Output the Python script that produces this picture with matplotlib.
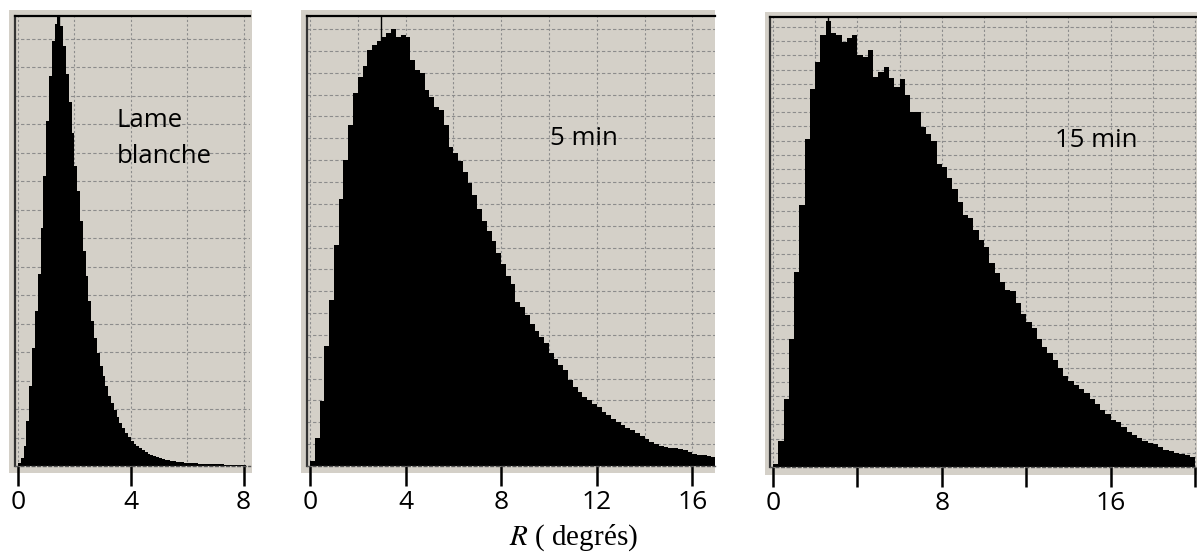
import numpy as np
import matplotlib.pyplot as plt
from matplotlib.patches import Rectangle
from matplotlib.ticker import MultipleLocator

plt.rcParams['font.family'] = ['Open Sans', 'DejaVu Sans']
plt.rcParams['mathtext.fontset'] = 'stix'

# histogram counts (one grid line = 100 counts)
bw_lame = 0.1
counts_lame = [11, 28, 70, 158, 281, 414, 544, 674, 835, 1018,
               1211, 1369, 1492, 1551, 1575, 1544, 1474, 1376, 1278, 1169,
               1053, 965, 860, 755, 667, 579, 509, 449, 397, 351,
               316, 281, 246, 221, 197, 172, 151, 133, 116, 102,
               88, 77, 70, 63, 56, 49, 42, 39, 35, 32,
               28, 25, 21, 21, 18, 18, 14, 14, 14, 11,
               11, 11, 11, 11, 7, 7, 7, 7, 7, 7,
               7, 7, 7, 4, 4, 4, 4, 4, 4, 4, 4]

bw_5min = 0.2
counts_5min = [23, 129, 298, 551, 762, 1010, 1221, 1400, 1561, 1707,
               1781, 1831, 1905, 1928, 1946, 1965, 1983, 2001, 1965, 1974,
               1965, 1859, 1813, 1799, 1721, 1689, 1643, 1629, 1561, 1460,
               1432, 1395, 1345, 1294, 1239, 1175, 1120, 1074, 1028, 973,
               927, 872, 835, 753, 730, 693, 652, 620, 592, 565,
               519, 491, 464, 441, 395, 363, 340, 317, 303, 285,
               271, 248, 234, 216, 202, 188, 174, 165, 151, 138,
               124, 110, 101, 92, 87, 83, 83, 78, 73, 64,
               55, 50, 50, 46, 41]

bw_15min = 0.25
counts_15min = [21, 183, 479, 901, 1373, 1844, 2309, 2661, 2851, 3041,
                3140, 3055, 3041, 2992, 3020, 3041, 2900, 2886, 2936, 2746,
                2781, 2816, 2739, 2675, 2732, 2619, 2499, 2499, 2394, 2344,
                2295, 2133, 2112, 2035, 1957, 1866, 1774, 1753, 1668, 1598,
                1549, 1436, 1366, 1302, 1246, 1239, 1155, 1077, 1021, 979,
                901, 845, 803, 753, 697, 641, 605, 577, 549, 521,
                479, 444, 401, 373, 331, 317, 282, 246, 225, 204,
                183, 169, 162, 141, 120, 113, 99, 92, 84, 70]

modes = [1.45, 2.97, 2.6]
ymax = [1580, 2060, 3170]
xlims = [(-0.106, 8.23), (-0.126, 16.95), (-0.14, 20.09)]
ticks = [[0, 4, 8], [0, 4, 8, 12, 16], [0, 4, 8, 12, 16, 20]]
tick_labels = [['0', '4', '8'], ['0', '4', '8', '12', '16'],
               ['0', '', '8', '', '16', '']]
names = [['Lame', 'blanche'], ['5 min'], ['15 min']]

W, H = 1197, 555
bg = '#d4d0c8'
fig = plt.figure(figsize=(W / 100, H / 100), dpi=100)

# pixel boxes: axes frame and grey backdrop (left, top, right, bottom)
frames = [(15, 16, 250, 466), (307, 16, 715, 466), (770, 17, 1197, 467)]
backs = [(9, 10, 252, 473), (301, 10, 715, 473), (765, 12, 1197, 475)]
text_pos = [[(0.434, 0.753), (0.434, 0.673)], [(0.596, 0.713)], [(0.667, 0.711)]]

data = [(counts_lame, bw_lame), (counts_5min, bw_5min), (counts_15min, bw_15min)]

for i, (counts, bw) in enumerate(data):
    l, t, r, b = backs[i]
    fig.add_artist(Rectangle((l / W, 1 - b / H), (r - l) / W, (b - t) / H,
                             transform=fig.transFigure, facecolor=bg,
                             edgecolor='none', zorder=-1))
    l, t, r, b = frames[i]
    ax = fig.add_axes([l / W, 1 - b / H, (r - l) / W, (b - t) / H])
    ax.set_facecolor(bg)
    edges = np.arange(len(counts) + 1) * bw
    ax.stairs(counts, edges, fill=True, color='black', zorder=2)
    ax.axvline(modes[i], color='black', lw=1, zorder=2)
    ax.set_xlim(*xlims[i])
    ax.set_ylim(0, ymax[i])

    ax.set_xticks(ticks[i])
    ax.set_xticklabels(tick_labels[i], fontsize=19)
    ax.xaxis.set_minor_locator(MultipleLocator(2))
    ax.yaxis.set_major_locator(MultipleLocator(100))
    ax.yaxis.set_major_formatter(plt.NullFormatter())
    ax.tick_params(axis='x', which='major', direction='out', length=14.5,
                   width=1.8, pad=3, colors='black')
    ax.tick_params(axis='x', which='minor', length=0)
    ax.tick_params(axis='y', length=0)
    ax.set_axisbelow(True)
    ax.grid(True, which='both', axis='x', color='#8c8c8c', lw=0.8,
            linestyle=(0, (2, 2)))
    ax.grid(True, axis='y', color='#8c8c8c', lw=0.8, linestyle=(0, (3, 2)))

    ax.spines['right'].set_visible(False)
    ax.spines['top'].set_color('black')
    ax.spines['top'].set_linewidth(1.6)
    ax.spines['left'].set_color('#333333')
    ax.spines['left'].set_linewidth(1.6)
    ax.spines['bottom'].set_color('#555555')
    ax.spines['bottom'].set_linewidth(1)
    ax.spines['bottom'].set_linestyle((0, (2, 2)))

    for name, (tx, ty) in zip(names[i], text_pos[i]):
        ax.text(tx, ty, name, transform=ax.transAxes, fontsize=18.5,
                ha='left', va='baseline', color='black', zorder=3)

fig.text(573 / W, 1 - 538 / H, r'$R$ ( degrés)', family='Liberation Serif',
         fontsize=21, ha='center', va='center')

fig.savefig('out.png', dpi=100)
